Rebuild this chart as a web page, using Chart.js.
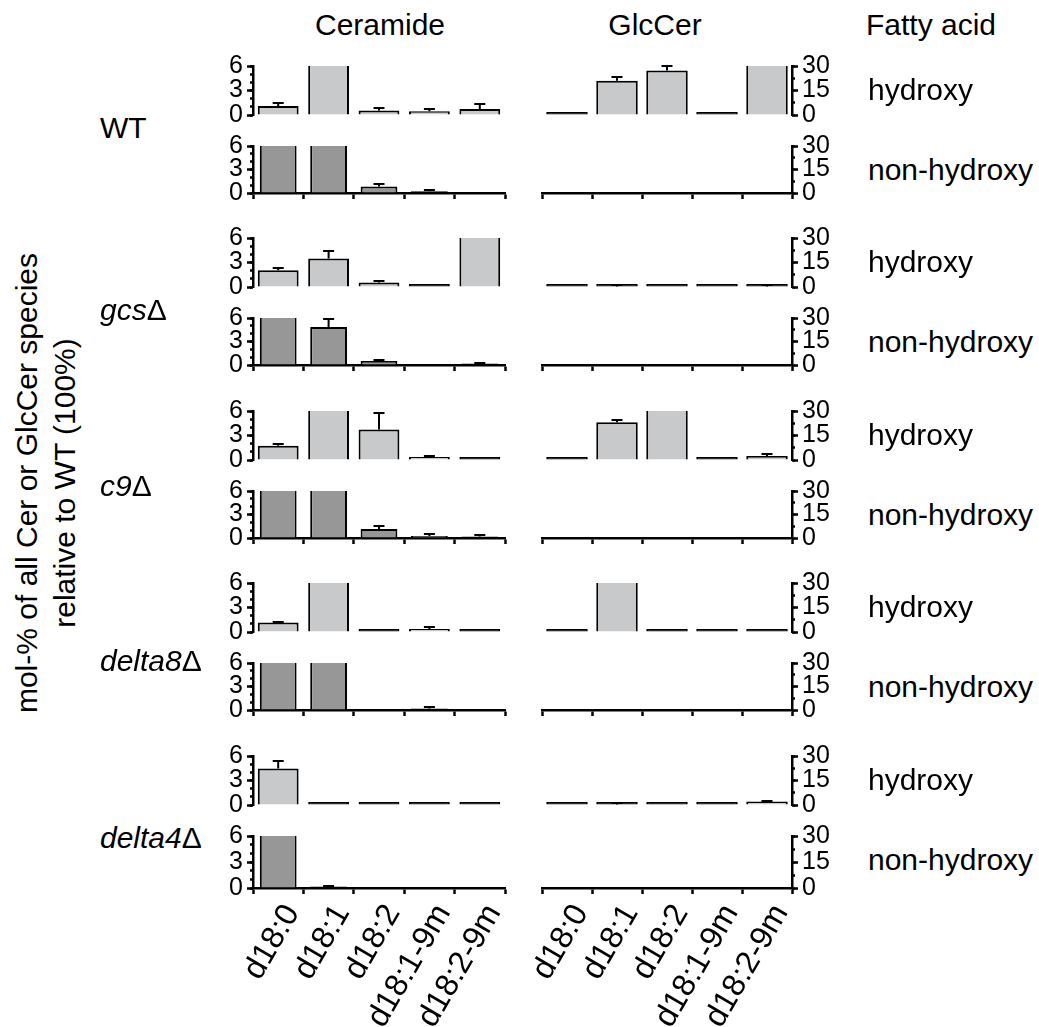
<!DOCTYPE html>
<html>
<head>
<meta charset="utf-8">
<script src="https://cdn.jsdelivr.net/npm/chart.js@4.4.1/dist/chart.umd.min.js"></script>
<style>
  body { margin: 0; background: #fff; }
  #fig { position: relative; width: 1039px; height: 1027px; overflow: hidden;
         font-family: "Liberation Sans", Arial, sans-serif; color: #000; }
  .panel { position: absolute; }
  .txt { position: absolute; font-size: 30px; line-height: 1; white-space: nowrap; }
  .ylab { position: absolute; left: 46px; top: 483px; font-size: 30px; line-height: 38px;
          text-align: center; white-space: nowrap; transform: translate(-50%, -50%) rotate(-90deg); }
</style>
</head>
<body>
<div id="fig">
  <div class="txt" style="left:380px; top:25px; transform:translate(-50%,-50%)">Ceramide</div>
  <div class="txt" style="left:655px; top:25px; transform:translate(-50%,-50%)">GlcCer</div>
  <div class="txt" style="left:866px; top:25px; transform:translateY(-50%)">Fatty acid</div>
  <div class="ylab">mol-% of all Cer or GlcCer species<br>relative to WT (100%)</div>
</div>
<script>
// sphingoid base species (x categories) and strains (rows)
const categories = ['d18:0', 'd18:1', 'd18:2', 'd18:1-9m', 'd18:2-9m'];
const genotypes = ['WT', 'gcs', 'c9', 'delta8', 'delta4'];
const italicName = [false, true, true, true, true];

const cerMax = 6, cerStep = 3, cerMinor = 1;
const glcMax = 30, glcStep = 15, glcMinor = 7.5;

// values above the axis max are cut off in the figure
const cerHydroxy = [
  [1.1, 10, 0.55, 0.47, 0.73],
  [2.05, 3.5, 0.54, 0, 10],
  [1.75, 10, 3.75, 0.33, 0],
  [1.15, 10, 0, 0.36, 0],
  [4.47, 0, 0, 0, 0]
];
const cerHydroxyErr = [
  [0.35, 0, 0.25, 0.25, 0.6],
  [0.3, 0.9, 0.18, 0, 0],
  [0.25, 0, 1.95, 0.18, 0],
  [0.1, 0, 0, 0.2, 0],
  [0.87, 0, 0, 0, 0]
];
const cerNonHydroxy = [
  [10, 10, 0.84, 0.22, 0.05],
  [10, 4.85, 0.5, 0.03, 0.18],
  [10, 10, 1.15, 0.25, 0.18],
  [10, 10, 0, 0.18, 0],
  [10, 0.18, 0, 0.03, 0]
];
const cerNonHydroxyErr = [
  [0, 0, 0.36, 0.1, 0],
  [0, 0.97, 0.1, 0, 0.05],
  [0, 0, 0.4, 0.2, 0.2],
  [0, 0, 0, 0.15, 0],
  [0, 0.1, 0, 0, 0]
];
const glcHydroxy = [
  [0, 20.9, 27.2, 0, 40],
  [0, 0.3, 0, 0, 0.3],
  [0, 23.1, 40, 0, 2.4],
  [0, 40, 0, 0, 0],
  [0, 0.3, 0, 0, 2.2]
];
const glcHydroxyErr = [
  [0, 2.4, 3.0, 0, 0],
  [0, 1.2, 0, 0, 1.2],
  [0, 1.1, 0, 0, 1.1],
  [0, 0, 0, 0, 0],
  [0, 1.0, 0, 0, 0.3]
];
const glcNonHydroxy = [
  [0, 0, 0, 0, 0],
  [0, 0, 0, 0, 0],
  [0, 0, 0, 0, 0],
  [0, 0, 0, 0, 0],
  [0, 0, 0, 0, 0]
];

// layout
const rowTop = [63, 235, 408, 580, 753];
const labelY = [128, 310, 486, 661, 838];
const PANEL_H = 55;
const ROW_GAP = 80;
const FONT = '"Liberation Sans", Arial, sans-serif';
const LIGHT = '#c8c9cb';
const DARK = '#979797';
const LINE = 2.5;

Chart.defaults.font.family = FONT;
Chart.defaults.color = '#000';

const fig = document.getElementById('fig');

const errorBars = {
  id: 'errorBars',
  afterDatasetsDraw(chart) {
    const ctx = chart.ctx;
    chart.data.datasets.forEach((ds, i) => {
      if (!ds.errors) return;
      const meta = chart.getDatasetMeta(i);
      const yScale = chart.scales[meta.yAxisID];
      meta.data.forEach((bar, j) => {
        const v = ds.data[j];
        const e = ds.errors[j];
        if (!e || v >= yScale.max) return;
        const yVal = yScale.getPixelForValue(v);
        const yTop = Math.round(yScale.getPixelForValue(v + e));
        ctx.save();
        ctx.strokeStyle = '#000';
        ctx.lineWidth = 2;
        ctx.beginPath();
        ctx.moveTo(bar.x, yVal);
        ctx.lineTo(bar.x, yTop);
        ctx.moveTo(bar.x - 5.5, yTop);
        ctx.lineTo(bar.x + 5.5, yTop);
        ctx.stroke();
        ctx.restore();
      });
    });
  }
};

function addPanel(kind, hydroxy, row) {
  const isCer = kind === 'cer';
  const max = isCer ? cerMax : glcMax;
  const top = rowTop[row] + (hydroxy ? 0 : ROW_GAP);
  const lastRow = row === genotypes.length - 1;
  const xH = lastRow ? 1027 - (top + PANEL_H) : 14;
  const padTop = 16;
  const bottomSpace = hydroxy ? 16 : xH;
  const left = isCer ? 213 : 500;
  const width = isCer ? 310 : 345;
  const height = padTop + PANEL_H + bottomSpace;

  let values, errs;
  if (isCer) {
    values = hydroxy ? cerHydroxy[row] : cerNonHydroxy[row];
    errs = hydroxy ? cerHydroxyErr[row] : cerNonHydroxyErr[row];
  } else {
    values = hydroxy ? glcHydroxy[row] : glcNonHydroxy[row];
    errs = hydroxy ? glcHydroxyErr[row] : null;
  }
  const fill = hydroxy ? LIGHT : DARK;

  const wrap = document.createElement('div');
  wrap.className = 'panel';
  wrap.style.left = left + 'px';
  wrap.style.top = (top - padTop) + 'px';
  const cv = document.createElement('canvas');
  cv.width = width;
  cv.height = height;
  wrap.appendChild(cv);
  fig.appendChild(wrap);

  const side = isCer ? 'left' : 'right';
  const xScale = {
    display: !hydroxy,
    offset: true,
    grid: { offset: true, drawOnChartArea: false, drawTicks: true, tickLength: 6, tickWidth: LINE, color: '#000' },
    border: { display: true, width: LINE, color: '#000' },
    ticks: {
      display: lastRow && !hydroxy,
      autoSkip: false,
      minRotation: 60,
      maxRotation: 60,
      padding: 4,
      labelOffset: 14,
      color: '#000',
      font: { size: 32 }
    }
  };
  if (!hydroxy) xScale.afterFit = s => { s.height = xH; };

  return new Chart(cv, {
    type: 'bar',
    data: {
      labels: categories,
      datasets: [{
        data: values,
        errors: errs,
        yAxisID: 'y',
        backgroundColor: c => (c.raw !== undefined && c.raw / max < 0.04) ? '#000' : fill,
        borderColor: '#000',
        borderWidth: 2,
        minBarLength: hydroxy ? 3 : 1,
        barPercentage: hydroxy ? (isCer ? 0.81 : 0.83) : 0.73,
        categoryPercentage: 1,
        clip: { left: 5, right: 5, top: 0, bottom: 5 }
      }]
    },
    options: {
      responsive: false,
      animation: false,
      devicePixelRatio: 1,
      events: [],
      layout: {
        padding: {
          top: padTop,
          bottom: hydroxy ? 16 : 0,
          left: isCer ? 0 : 42,
          right: isCer ? 18 : 0
        }
      },
      plugins: { legend: { display: false }, tooltip: { enabled: false } },
      scales: {
        x: xScale,
        y: {
          position: side,
          weight: 1,
          min: 0,
          max: max,
          ticks: {
            stepSize: isCer ? cerStep : glcStep,
            autoSkip: false,
            padding: 4,
            color: '#000',
            font: { size: 25 }
          },
          grid: { drawOnChartArea: false, tickLength: 6, tickWidth: LINE, color: '#000' },
          border: { display: true, width: LINE, color: '#000' },
          afterFit: s => { s.width = isCer ? 40 : 53; }
        },
        yMinor: {
          position: side,
          weight: 0,
          min: 0,
          max: max,
          ticks: { stepSize: isCer ? cerMinor : glcMinor, display: false },
          grid: { drawOnChartArea: false, tickLength: 3, tickWidth: LINE, color: '#000' },
          border: { display: false },
          afterFit: s => { s.width = 0; }
        }
      }
    },
    plugins: [errorBars]
  });
}

genotypes.forEach((g, row) => {
  addPanel('cer', true, row);
  addPanel('cer', false, row);
  addPanel('glc', true, row);
  addPanel('glc', false, row);

  const lab = document.createElement('div');
  lab.className = 'txt';
  lab.style.left = '100px';
  lab.style.top = labelY[row] + 'px';
  lab.style.transform = 'translateY(-50%)';
  if (italicName[row]) {
    const i = document.createElement('i');
    i.textContent = g;
    lab.appendChild(i);
    lab.appendChild(document.createTextNode('Δ'));
  } else {
    lab.textContent = g;
  }
  fig.appendChild(lab);

  [['hydroxy', rowTop[row]], ['non-hydroxy', rowTop[row] + ROW_GAP]].forEach(([t, y]) => {
    const d = document.createElement('div');
    d.className = 'txt';
    d.style.left = '868px';
    d.style.top = (y + PANEL_H / 2 - 1) + 'px';
    d.style.transform = 'translateY(-50%)';
    d.textContent = t;
    fig.appendChild(d);
  });
});
</script>
</body>
</html>
